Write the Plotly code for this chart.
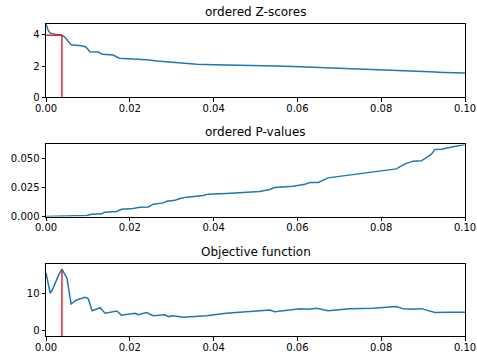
import plotly.graph_objects as go

# ---- data ----
z_x = [0.0, 0.0005, 0.001, 0.002, 0.0035, 0.0045, 0.0055, 0.006, 0.0085, 0.0095, 0.0105,
       0.0125, 0.0135, 0.016, 0.0175, 0.021, 0.024, 0.0265, 0.029, 0.032, 0.036, 0.040,
       0.046, 0.051, 0.055, 0.0606, 0.065, 0.070, 0.075, 0.0805, 0.085, 0.089, 0.0916,
       0.095, 0.1]
z_scores = [4.69, 4.3, 4.1, 4.03, 4.0, 3.85, 3.5, 3.36, 3.3, 3.22, 2.92,
            2.9, 2.75, 2.7, 2.5, 2.47, 2.4, 2.32, 2.27, 2.19, 2.12, 2.09,
            2.07, 2.04, 2.01, 1.95, 1.91, 1.85, 1.81, 1.77, 1.73, 1.68, 1.63,
            1.59, 1.56]

p_x = [0.0, 0.0065, 0.0097, 0.0109, 0.0133, 0.014, 0.0169, 0.018, 0.0208, 0.0224, 0.0244,
       0.0256, 0.028, 0.0288, 0.0308, 0.032, 0.0336, 0.0375, 0.0387, 0.043, 0.0487, 0.051,
       0.0534, 0.0546, 0.059, 0.0618, 0.063, 0.065, 0.0673, 0.0725, 0.0765, 0.0804, 0.0836,
       0.0856, 0.0876, 0.0896, 0.0912, 0.092, 0.0928, 0.0944, 0.0963, 0.1]
p_values = [0.0, 0.0003, 0.0009, 0.002, 0.0023, 0.0037, 0.0043, 0.0063, 0.0069, 0.0081, 0.0083,
            0.0107, 0.0118, 0.0133, 0.0141, 0.0156, 0.0168, 0.0182, 0.0194, 0.0200, 0.0214, 0.0217,
            0.0234, 0.0252, 0.0263, 0.028, 0.0295, 0.0295, 0.0335, 0.0358, 0.0382, 0.0396, 0.0413,
            0.0454, 0.048, 0.0483, 0.0526, 0.0541, 0.0582, 0.0584, 0.0599, 0.0625]

obj_x = [0.0, 0.001, 0.0017, 0.003, 0.0038, 0.005, 0.006, 0.0073, 0.0093, 0.0101, 0.011,
         0.0129, 0.0141, 0.0169, 0.018, 0.0212, 0.022, 0.024, 0.0256, 0.0284, 0.0292, 0.0304,
         0.0327, 0.0383, 0.043, 0.0487, 0.0518, 0.0534, 0.0546, 0.0606, 0.0626, 0.0646, 0.0673,
         0.0725, 0.078, 0.0804, 0.0836, 0.0852, 0.0876, 0.0896, 0.0912, 0.0928, 0.0963, 0.1]
objective = [15.6, 10.1, 11.5, 15.0, 16.6, 14.2, 7.2, 8.3, 9.0, 8.6, 5.4,
             6.2, 4.7, 5.3, 4.2, 4.7, 4.3, 4.9, 4.05, 4.3, 3.8, 4.0,
             3.6, 4.05, 4.7, 5.3, 5.6, 5.6, 5.1, 5.95, 5.8, 6.05, 5.4,
             5.9, 6.05, 6.3, 6.5, 5.95, 5.8, 5.95, 5.4, 4.9, 5.0, 4.95]

best_x = 0.0038
best_z = 3.97
best_obj = 16.6

titles = ["ordered Z-scores", "ordered P-values", "Objective function"]

BLUE = "#1f77b4"
RED = "#e8262b"

fig = go.Figure()

# Panel 1
fig.add_trace(go.Scatter(x=z_x, y=z_scores, mode="lines", line=dict(color=BLUE, width=1.5),
                         xaxis="x", yaxis="y", showlegend=False, hoverinfo="skip"))
fig.add_trace(go.Scatter(x=[0, best_x, best_x], y=[best_z, best_z, 0], mode="lines",
                         line=dict(color=RED, width=1.5), xaxis="x", yaxis="y", showlegend=False,
                         hoverinfo="skip"))
# Panel 2
fig.add_trace(go.Scatter(x=p_x, y=p_values, mode="lines", line=dict(color=BLUE, width=1.5),
                         xaxis="x2", yaxis="y2", showlegend=False, hoverinfo="skip"))
# Panel 3
fig.add_trace(go.Scatter(x=obj_x, y=objective, mode="lines", line=dict(color=BLUE, width=1.5),
                         xaxis="x3", yaxis="y3", showlegend=False, hoverinfo="skip"))
fig.add_trace(go.Scatter(x=[best_x, best_x], y=[-1.43, best_obj], mode="lines",
                         line=dict(color=RED, width=1.5), xaxis="x3", yaxis="y3", showlegend=False,
                         hoverinfo="skip"))

font = dict(family="DejaVu Sans", size=10, color="black")
axis_common = dict(showline=True, linecolor="black", linewidth=1, mirror=True,
                   ticks="outside", ticklen=3.5, tickwidth=1, tickcolor="black",
                   showgrid=False, zeroline=False, tickfont=font, automargin=False)

xax = dict(range=[0, 0.1], tickvals=[0, 0.02, 0.04, 0.06, 0.08, 0.1], tickformat=".2f",
           ticklabelstandoff=-2, **axis_common)

fig.update_layout(
    width=477, height=352,
    margin=dict(l=46, r=12, t=24, b=16),
    paper_bgcolor="white", plot_bgcolor="white",
    xaxis=dict(domain=[0, 1], anchor="y", **xax),
    yaxis=dict(domain=[0.765, 1.0], anchor="x", range=[0, 4.69], tickvals=[0, 2, 4], **axis_common),
    xaxis2=dict(domain=[0, 1], anchor="y2", **xax),
    yaxis2=dict(domain=[0.383, 0.614], anchor="x2", range=[0, 0.0625],
                tickvals=[0, 0.025, 0.05], tickformat=".3f", **axis_common),
    xaxis3=dict(domain=[0, 1], anchor="y3", **xax),
    yaxis3=dict(domain=[0, 0.232], anchor="x3", range=[-1.43, 18.1], tickvals=[0, 10], **axis_common),
)

title_y = [1.0, 0.614, 0.232]
for t, yy in zip(titles, title_y):
    fig.add_annotation(text=t, x=0.5, y=yy, xref="paper", yref="paper", xanchor="center",
                       yanchor="bottom", yshift=3, showarrow=False,
                       font=dict(family="DejaVu Sans", size=12, color="black"))

fig.write_html("out.html", config={"displayModeBar": False},
               post_script="document.body.style.margin='0';")
